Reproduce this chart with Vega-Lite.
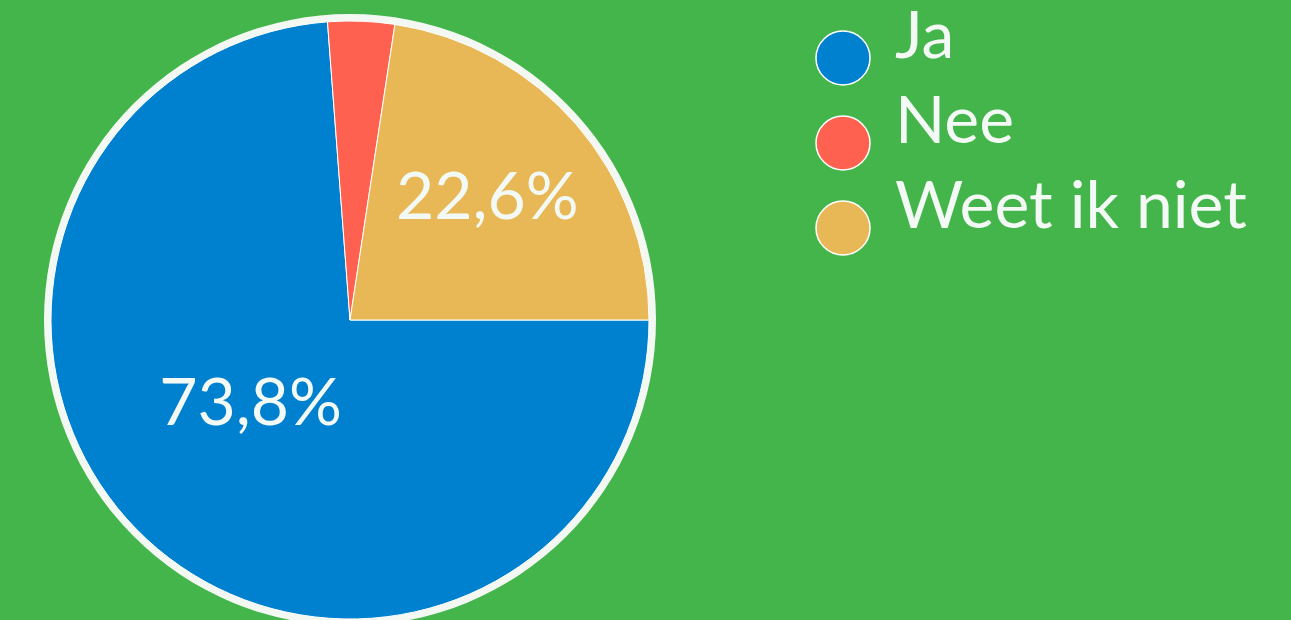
{
  "$schema": "https://vega.github.io/schema/vega-lite/v6.json",
  "width": 700,
  "height": 640,
  "padding": {"left": 0, "top": 0, "right": 591, "bottom": 0},
  "autosize": {"type": "none"},
  "background": "#43B54B",
  "config": {"view": {"stroke": null}, "font": "Lato"},
  "datasets": {
    "main": [
      {"answer": "Ja", "pct": 73.8, "label": "73,8%"},
      {"answer": "Nee", "pct": 3.6, "label": "3,6%"},
      {"answer": "Weet ik niet", "pct": 22.6, "label": "22,6%"}
    ],
    "ring": [{"v": 100}]
  },
  "data": {"name": "main"},
  "layer": [
    {
      "data": {"name": "ring"},
      "mark": {"type": "arc", "radius": 306, "fill": "#F3F8F3"},
      "encoding": {
        "theta": {"field": "v", "type": "quantitative", "stack": true, "scale": {"range": [1.5708, 7.854]}}
      }
    },
    {
      "mark": {"type": "arc", "radius": 299, "stroke": "#FFFFFF", "strokeWidth": 1},
      "encoding": {
        "theta": {"field": "pct", "type": "quantitative", "stack": true, "scale": {"range": [1.5708, 7.854]}},
        "order": {"field": "answer", "sort": "ascending"},
        "color": {
          "field": "answer",
          "type": "nominal",
          "scale": {"domain": ["Ja", "Nee", "Weet ik niet"], "range": ["#0081CF", "#FF6150", "#E8B857"]},
          "legend": {
            "title": null,
            "orient": "none",
            "legendX": 810,
            "legendY": 25,
            "padding": 0,
            "symbolType": "circle",
            "symbolSize": 2916,
            "symbolStrokeColor": "#FFFFFF",
            "symbolStrokeWidth": 1.5,
            "symbolOpacity": 1,
            "labelFont": "Lato",
            "labelFontSize": 66,
            "labelColor": "#F3F9F4",
            "labelBaseline": "alphabetic",
            "labelOffset": 19,
            "labelLimit": 600,
            "rowPadding": 2
          }
        }
      }
    },
    {
      "mark": {"type": "text", "radius": 130, "dx": -11, "dy": -10, "fontSize": 66, "font": "Lato", "color": "#F3F9F4"},
      "encoding": {
        "theta": {"field": "pct", "type": "quantitative", "stack": true, "scale": {"range": [1.5708, 7.854]}},
        "order": {"field": "answer", "sort": "ascending"},
        "text": {"condition": {"test": "datum.answer === 'Ja'", "field": "label"}, "value": ""}
      }
    },
    {
      "mark": {"type": "text", "radius": 185, "dx": -3, "dy": 0, "fontSize": 66, "font": "Lato", "color": "#F3F9F4"},
      "encoding": {
        "theta": {"field": "pct", "type": "quantitative", "stack": true, "scale": {"range": [1.5708, 7.854]}},
        "order": {"field": "answer", "sort": "ascending"},
        "text": {"condition": {"test": "datum.answer === 'Weet ik niet'", "field": "label"}, "value": ""}
      }
    }
  ]
}
